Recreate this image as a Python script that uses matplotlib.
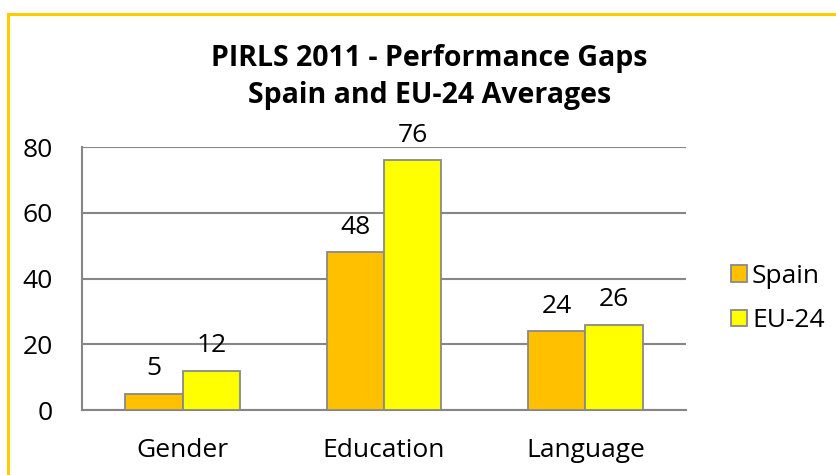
import numpy as np
import matplotlib.pyplot as plt
from matplotlib.lines import Line2D

# chart data
categories = ["Gender", "Education", "Language"]
spain = [5, 48, 24]
eu24 = [12, 76, 26]
series_names = ["Spain", "EU-24"]

plt.rcParams['font.family'] = ['Open Sans', 'DejaVu Sans']

fig = plt.figure(figsize=(8.36, 4.75), dpi=100)
ax = fig.add_axes([0.0981, 0.1368, 0.7225, 0.5537])

x = np.arange(len(categories))
w = 0.285
edge = "#898989"
b1 = ax.bar(x - w / 2, spain, w, color="#FFC000", edgecolor=edge, linewidth=1.3,
            label=series_names[0], zorder=3)
b2 = ax.bar(x + w / 2, eu24, w, color="#FFFF00", edgecolor=edge, linewidth=1.3,
            label=series_names[1], zorder=3)

for bars, vals in [(b1, spain), (b2, eu24)]:
    for r, v in zip(bars, vals):
        ax.annotate(str(v), (r.get_x() + r.get_width() / 2, v),
                    xytext=(0, 9), textcoords="offset points",
                    ha="center", va="bottom", fontsize=19)

ax.set_xlim(-0.5, 2.5)
ax.set_ylim(0, 80)
ax.set_yticks([0, 20, 40, 60, 80])
ax.set_xticks(x)
ax.set_xticklabels(categories)
ax.tick_params(axis="both", length=0, labelsize=19)
ax.tick_params(axis="x", pad=20)
ax.tick_params(axis="y", pad=21)
ax.grid(axis="y", color="#868686", linewidth=1.5, zorder=0)
for s in ["top", "right"]:
    ax.spines[s].set_visible(False)
for s in ["left", "bottom"]:
    ax.spines[s].set_color("#868686")
    ax.spines[s].set_linewidth(1.5)

fig.text(0.514, 0.838, "PIRLS 2011 - Performance Gaps\nSpain and EU-24 Averages",
         ha="center", va="center", fontsize=20.5, fontweight="bold", linespacing=1.35)

ax.legend(loc="center left", bbox_to_anchor=(1.035, 0.424), frameon=False,
          fontsize=19, handlelength=0.6, handleheight=0.6, handletextpad=0.2,
          labelspacing=0.75)

# outer frame of the chart area
fc = "#FFCC00"
fig.add_artist(Line2D([8 / 836, 1], [1 - 14 / 475] * 2, color=fc, linewidth=2.2,
                      transform=fig.transFigure))
fig.add_artist(Line2D([8 / 836] * 2, [0, 1 - 14 / 475], color=fc, linewidth=2.2,
                      transform=fig.transFigure))

fig.savefig("out.png", dpi=100)
